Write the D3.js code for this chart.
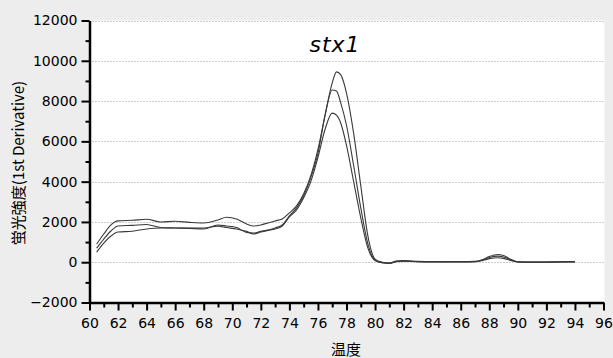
<!DOCTYPE html>
<html>
<head>
<meta charset="UTF-8">
<style>
  body { margin: 0; }
  svg { display: block; }
  .tick text { font-family: "DejaVu Sans", sans-serif; }
</style>
</head>
<body>
<svg></svg>
<script src="https://d3js.org/d3.v7.min.js"></script>
<script>

// melt curve data (temperature vs 1st derivative of fluorescence)
let temps = [60.5, 61, 61.5, 62, 63, 64, 65, 66, 67, 68, 69, 69.6, 70.3, 71, 71.5, 72, 72.5, 73, 73.5, 74,
    74.5, 75, 75.5, 76, 76.5, 77, 77.3, 77.6, 78, 78.5, 79, 79.5, 80, 80.5, 81, 81.5, 82, 83, 84, 85,
    86, 87, 87.5, 88, 88.6, 89, 89.5, 90, 91, 92, 93, 94];

let sampleA = [900, 1400, 1850, 2050, 2080, 2130, 2000, 2030, 1980, 1950, 2100, 2230, 2150, 1900, 1800, 1850, 1950, 2050, 2150, 2450,
    2800, 3400, 4300, 5600, 7300, 8900, 9450, 9300, 8400, 6400, 3800, 1300, 150, 0, -40, 60, 80, 40, 30, 30,
    30, 40, 120, 280, 380, 330, 150, 20, 10, 10, 20, 30];

let sampleB = [700, 1150, 1550, 1800, 1830, 1870, 1720, 1700, 1680, 1650, 1850, 1800, 1720, 1480, 1450, 1530, 1600, 1700, 1850, 2300,
    2700, 3300, 4200, 5400, 7300, 8550, 8500, 7900, 6800, 4800, 2700, 900, 100, -20, -60, 40, 60, 30, 20, 20,
    20, 30, 100, 230, 300, 260, 120, 15, 5, 5, 15, 20];

let sampleC = [500, 950, 1300, 1500, 1540, 1650, 1700, 1700, 1700, 1700, 1790, 1720, 1650, 1530, 1400, 1500, 1580, 1650, 1800, 2250,
    2600, 3200, 4000, 5200, 6600, 7400, 7300, 6900, 5800, 4000, 2200, 700, 80, -30, -50, 30, 50, 20, 10, 10,
    10, 20, 80, 180, 220, 190, 90, 10, 0, 0, 10, 15];

let xMajor = d3.range(60, 97, 2);
let xMinor = d3.range(61, 96, 2);
let yMajor = d3.range(-2000, 12001, 2000);
let yMinor = d3.range(-1000, 12000, 2000);

let width = 613, height = 358;
let pLeft = 89.5, pRight = 603.5, pTop = 20.5, pBottom = 302.5;

let svg = d3.select("svg").attr("width", width).attr("height", height);

svg.append("rect").attr("width", width).attr("height", height).attr("fill", "#ededed");
svg.append("rect").attr("x", pLeft).attr("y", pTop)
    .attr("width", pRight - pLeft + 1).attr("height", pBottom - pTop)
    .attr("fill", "#ffffff");

let x = d3.scaleLinear().domain([60, 96]).range([pLeft, pRight]);
let y = d3.scaleLinear().domain([-2000, 12000]).range([pBottom, pTop]);

// dotted gridlines
svg.append("g")
    .selectAll("line")
    .data(yMajor.filter(d => d >= 0))
    .enter()
    .append("line")
    .attr("x1", pLeft).attr("x2", pRight + 1)
    .attr("y1", d => Math.round(y(d)) + 0.5).attr("y2", d => Math.round(y(d)) + 0.5)
    .style("stroke", "#9a9a9a")
    .style("stroke-dasharray", "1,2");

// curves
let line = d3.line()
    .x((d, i) => x(temps[i]))
    .y(d => y(d))
    .curve(d3.curveMonotoneX);

svg.append("g")
    .selectAll("path")
    .data([sampleA, sampleB, sampleC])
    .enter()
    .append("path")
    .attr("d", line)
    .attr("fill", "none")
    .style("stroke", "#3a3a3a")
    .style("stroke-width", 1.1);

// y axis
svg.append("g")
    .attr("transform", "translate(" + pLeft + ",0)")
    .call(d3.axisLeft(y).tickValues(yMinor).tickSize(4).tickFormat("").tickSizeOuter(0))
    .call(g => g.select(".domain").remove())
    .call(g => g.selectAll(".tick line").style("stroke-width", 2));

let yAxis = svg.append("g")
    .attr("transform", "translate(" + pLeft + ",0)")
    .call(d3.axisLeft(y).tickValues(yMajor).tickSize(8).tickPadding(4).tickSizeOuter(0).tickFormat(d3.format("d")));
yAxis.select(".domain").style("stroke-width", 2.5);
yAxis.selectAll(".tick line").style("stroke-width", 2);
yAxis.selectAll(".tick text").style("font-size", "14px").style("fill", "#000");

// x axis
svg.append("g")
    .attr("transform", "translate(0," + pBottom + ")")
    .call(d3.axisBottom(x).tickValues(xMinor).tickSize(5).tickFormat("").tickSizeOuter(0))
    .call(g => g.select(".domain").remove())
    .call(g => g.selectAll(".tick line").style("stroke-width", 2));

let xAxis = svg.append("g")
    .attr("transform", "translate(0," + pBottom + ")")
    .call(d3.axisBottom(x).tickValues(xMajor).tickSize(8).tickPadding(8).tickSizeOuter(0));
xAxis.select(".domain").style("stroke-width", 2.5);
xAxis.selectAll(".tick line").style("stroke-width", 2);
xAxis.selectAll(".tick text").style("font-size", "14px").style("fill", "#000");

// titles
svg.append("text")
    .attr("x", 335).attr("y", 52)
    .attr("text-anchor", "middle")
    .style("font-family", "DejaVu Sans, sans-serif")
    .style("font-style", "italic")
    .style("font-size", "22px")
    .style("letter-spacing", "1px")
    .text("stx1");

svg.append("text")
    .attr("x", 346).attr("y", 355)
    .attr("text-anchor", "middle")
    .style("font-family", "Noto Sans CJK JP, sans-serif")
    .style("font-size", "15px")
    .text("温度");

svg.append("text")
    .attr("transform", "translate(24,163) rotate(-90)")
    .attr("text-anchor", "middle")
    .style("font-family", "Noto Sans CJK JP, sans-serif")
    .style("font-size", "15px")
    .text("蛍光強度(1st Derivative)");

</script>
</body>
</html>
